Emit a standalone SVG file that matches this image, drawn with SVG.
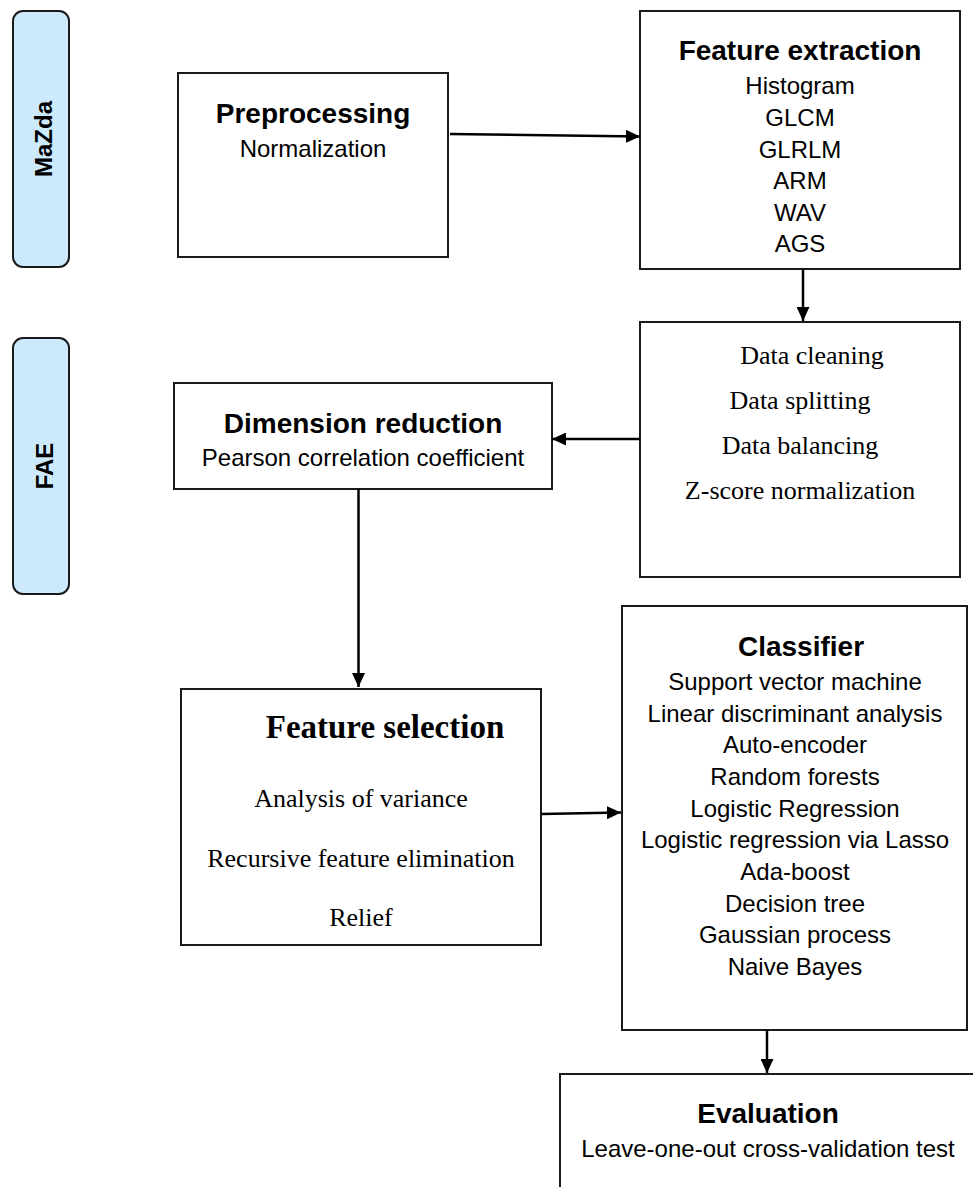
<svg xmlns="http://www.w3.org/2000/svg" width="973" height="1187" viewBox="0 0 973 1187">
<style>
.box{fill:#fff;stroke:#1a1a1a;stroke-width:2}
.pill{fill:#cdeafc;stroke:#1a1a1a;stroke-width:2}
.t{font-family:"Liberation Sans",Arial,sans-serif;font-size:24px;fill:#000;text-anchor:middle}
.h{font-family:"Liberation Sans",Arial,sans-serif;font-size:28px;font-weight:bold;fill:#000;text-anchor:middle}
.lab{font-family:"Liberation Sans",Arial,sans-serif;font-size:24px;font-weight:bold;fill:#000;text-anchor:middle}
.s{font-family:"Liberation Serif","Times New Roman",serif;font-size:26px;fill:#000;text-anchor:middle}
.sh{font-family:"Liberation Serif","Times New Roman",serif;font-size:33px;font-weight:bold;fill:#000;text-anchor:middle}
.c{fill:none;stroke:#000;stroke-width:2.5}
</style>
<defs>
<marker id="ah" markerUnits="userSpaceOnUse" markerWidth="15" markerHeight="13" refX="14" refY="6.5" orient="auto">
<path d="M0,0 L14,6.5 L0,13 z" fill="#000"/>
</marker>
</defs>
<g id="mazda">
<rect class="pill" x="13" y="11" width="56" height="256" rx="10" ry="10"/>
<text class="lab" transform="translate(52,139) rotate(-90)">MaZda</text>
</g>
<g id="fae">
<rect class="pill" x="13" y="338" width="56" height="256" rx="10" ry="10"/>
<text class="lab" transform="translate(53,466) rotate(-90)">FAE</text>
</g>
<g id="preprocessing">
<rect class="box" x="178" y="73" width="270" height="184"/>
<text class="h" x="313" y="123">Preprocessing</text>
<text class="t" x="313" y="157">Normalization</text>
</g>
<g id="feature-extraction">
<rect class="box" x="640" y="11" width="320" height="258"/>
<text class="h" x="800" y="60">Feature extraction</text>
<text class="t" x="800" y="94">Histogram</text>
<text class="t" x="800" y="126">GLCM</text>
<text class="t" x="800" y="158">GLRLM</text>
<text class="t" x="800" y="189">ARM</text>
<text class="t" x="800" y="221">WAV</text>
<text class="t" x="800" y="252">AGS</text>
</g>
<g id="data-processing">
<rect class="box" x="640" y="322" width="320" height="255"/>
<text class="s" x="812" y="364">Data cleaning</text>
<text class="s" x="800" y="409">Data splitting</text>
<text class="s" x="800" y="454">Data balancing</text>
<text class="s" x="800" y="499">Z-score normalization</text>
</g>
<g id="dimension-reduction">
<rect class="box" x="174" y="383" width="378" height="106"/>
<text class="h" x="363" y="433">Dimension reduction</text>
<text class="t" x="363" y="466">Pearson correlation coefficient</text>
</g>
<g id="feature-selection">
<rect class="box" x="181" y="689" width="360" height="256"/>
<text class="sh" x="385" y="738">Feature selection</text>
<text class="s" x="361" y="807">Analysis of variance</text>
<text class="s" x="361" y="867">Recursive feature elimination</text>
<text class="s" x="361" y="926">Relief</text>
</g>
<g id="classifier">
<rect class="box" x="622" y="606" width="345" height="424"/>
<text class="h" x="801" y="656">Classifier</text>
<text class="t" x="795" y="690">Support vector machine</text>
<text class="t" x="795" y="722">Linear discriminant analysis</text>
<text class="t" x="795" y="753">Auto-encoder</text>
<text class="t" x="795" y="785">Random forests</text>
<text class="t" x="795" y="817">Logistic Regression</text>
<text class="t" x="795" y="848">Logistic regression via Lasso</text>
<text class="t" x="795" y="880">Ada-boost</text>
<text class="t" x="795" y="912">Decision tree</text>
<text class="t" x="795" y="943">Gaussian process</text>
<text class="t" x="795" y="975">Naive Bayes</text>
</g>
<g id="evaluation">
<rect class="box" x="560" y="1074" width="416" height="130"/>
<text class="h" x="768" y="1123">Evaluation</text>
<text class="t" x="768" y="1157">Leave-one-out cross-validation test</text>
</g>
<g id="connectors">
<line class="c" x1="450" y1="134" x2="640" y2="136.5" marker-end="url(#ah)"/>
<line class="c" x1="803" y1="269" x2="803" y2="321" marker-end="url(#ah)"/>
<line class="c" x1="640" y1="439" x2="552" y2="439" marker-end="url(#ah)"/>
<line class="c" x1="358.5" y1="489" x2="358.5" y2="687" marker-end="url(#ah)"/>
<line class="c" x1="541" y1="814" x2="621" y2="812.5" marker-end="url(#ah)"/>
<line class="c" x1="767" y1="1030" x2="767" y2="1073" marker-end="url(#ah)"/>
</g>
</svg>
